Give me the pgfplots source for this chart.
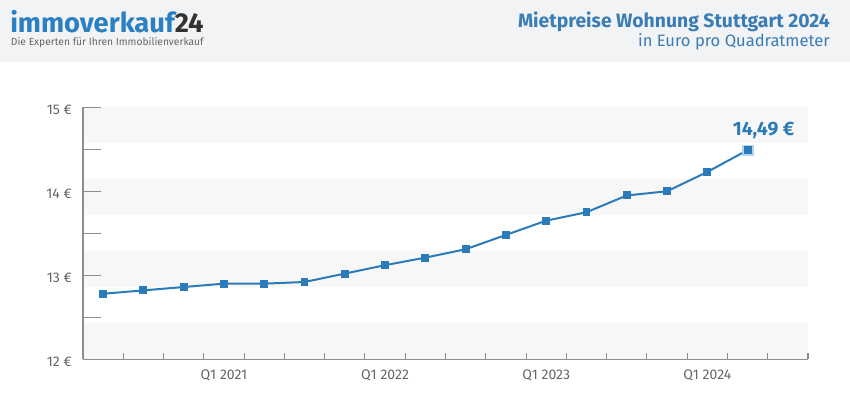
\documentclass[border=0pt]{standalone}
\usepackage{fontspec}
\setmainfont{Fira Sans}
\usepackage{pgfplots}
\pgfplotsset{compat=1.18}
\definecolor{lineblue}{HTML}{2B7BB9}
\definecolor{titleblue}{HTML}{3A7DB6}
\definecolor{logoblue}{HTML}{2B80C2}
\definecolor{logodark}{HTML}{333333}
\definecolor{headbg}{HTML}{F2F3F4}
\definecolor{bandgray}{HTML}{F7F7F8}
\definecolor{axisgray}{HTML}{8E8E8E}
\definecolor{labelgray}{HTML}{666666}
\definecolor{halo}{HTML}{B3D2EE}
\begin{document}
\begin{tikzpicture}
\path (0,0) rectangle (637.5pt,312.75pt);
\fill[headbg] (0,266.25pt) rectangle (637.5pt,312.75pt);
\node[anchor=base west, inner sep=0, text depth=0pt, text=logoblue, font=\bfseries\fontsize{20.5}{21}\selectfont] at (7.5pt,288pt) {immoverkauf\textcolor{logodark}{24}};
\node[anchor=base west, inner sep=0, text height=5.5pt, text=labelgray, font=\fontsize{7.7}{8}\selectfont] at (8pt,278.3pt) {Die Experten für Ihren Immobilienverkauf};
\node[anchor=base east, inner sep=0, text=titleblue, font=\bfseries\fontsize{14.5}{16}\selectfont] at (622.5pt,292.25pt) {Mietpreise Wohnung Stuttgart 2024};
\node[anchor=base east, inner sep=0, text=titleblue, font=\fontsize{12.4}{15}\selectfont] at (622.5pt,277.75pt) {in Euro pro Quadratmeter};
\begin{axis}[
  at={(62.25pt,43.3pt)}, anchor=south west,
  scale only axis, width=543.75pt, height=189pt,
  set layers,
  xmin=0, xmax=18, ymin=12, ymax=15,
  axis x line=bottom, axis y line=left,
  axis line style={-, draw=axisgray, line width=0.8pt},
  tick align=inside,
  major tick length=13.5pt, minor tick length=4.5pt,
  xtick={3.5,7.5,11.5,15.5},
  xticklabels={Q1 2021,Q1 2022,Q1 2023,Q1 2024},
  major x tick style={draw=none},
  minor xtick={0,1,...,18},
  minor x tick style={draw=axisgray, line width=0.8pt},
  ytick={12,12.5,13,13.5,14,14.5,15},
  yticklabels={12 €,,13 €,,14 €,,15 €},
  ytick style={draw=axisgray, line width=0.8pt},
  tick label style={text=labelgray, font=\fontsize{10.5}{12}\selectfont},
  yticklabel style={xshift=-5pt, yshift=-2pt},
  xticklabel style={yshift=-4pt},
  clip=false,
]
\begin{pgfonlayer}{axis background}
\fill[bandgray] (axis cs:0,12) rectangle (axis cs:18,12.4286);
\fill[bandgray] (axis cs:0,12.8571) rectangle (axis cs:18,13.2857);
\fill[bandgray] (axis cs:0,13.7143) rectangle (axis cs:18,14.1429);
\fill[bandgray] (axis cs:0,14.5714) rectangle (axis cs:18,15);
\end{pgfonlayer}
\addplot[only marks, mark=square*, mark size=4pt, mark options={fill=halo, draw=halo}] coordinates {(16.5,14.49)};
\addplot[lineblue, line width=1.5pt, mark=square*, mark size=2.6pt, mark options={fill=lineblue, draw=lineblue, line width=0pt}] coordinates {
(0.5,12.78) (1.5,12.82) (2.5,12.86) (3.5,12.90) (4.5,12.90) (5.5,12.92)
(6.5,13.02) (7.5,13.12) (8.5,13.21) (9.5,13.31) (10.5,13.48) (11.5,13.65)
(12.5,13.75) (13.5,13.95) (14.5,14.00) (15.5,14.23) (16.5,14.49)};
\node[anchor=base, text=lineblue, font=\bfseries\fontsize{14.5}{16}\selectfont, inner sep=0, xshift=12pt, yshift=11.25pt] at (axis cs:16.5,14.49) {14,49 €};
\end{axis}
\end{tikzpicture}
\end{document}
